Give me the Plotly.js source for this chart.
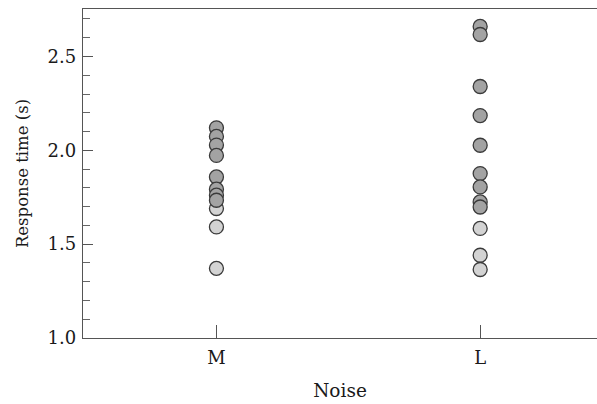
<!DOCTYPE html>
<html>
<head>
<meta charset="utf-8">
<script src="https://cdn.plot.ly/plotly-3.0.1.min.js"></script>
<style>html,body{margin:0;padding:0;overflow:hidden;background:#fff}</style>
</head>
<body>
<div id="chart" style="width:597px;height:404px"></div>
<script>
// Data
const categories = ["M", "L"];
const darkM = [2.120, 2.074, 2.028, 1.973, 1.858, 1.793, 1.761, 1.734];
const lightM = [1.690, 1.592, 1.371];
const darkL = [2.660, 2.617, 2.340, 2.185, 2.027, 1.876, 1.805, 1.725, 1.698];
const lightL = [1.584, 1.441, 1.365];
const yTickVals = [1.0, 1.5, 2.0, 2.5];
const yTickText = ["1.0", "1.5", "2.0", "2.5"];

const darkX = darkM.map(() => categories[0]).concat(darkL.map(() => categories[1]));
const darkY = darkM.concat(darkL);
const lightX = lightM.map(() => categories[0]).concat(lightL.map(() => categories[1]));
const lightY = lightM.concat(lightL);

const serif = "DejaVu Serif, Liberation Serif, serif";
const mk = (fill) => ({size: 14, color: fill, line: {color: "#3a3a3a", width: 1.3}});

const traces = [
  {type: "scatter", mode: "markers", x: lightX, y: lightY, marker: mk("#d3d3d3"), hoverinfo: "skip"},
  {type: "scatter", mode: "markers", x: darkX, y: darkY, marker: mk("#a3a3a3"), hoverinfo: "skip"}
];

const layout = {
  width: 597, height: 404,
  margin: {l: 82.5, r: 0, t: 8.5, b: 66},
  paper_bgcolor: "#fff", plot_bgcolor: "#fff",
  showlegend: false,
  font: {family: serif, size: 16, color: "#1a1a1a"},
  xaxis: {
    type: "category",
    categoryorder: "array", categoryarray: categories,
    range: [-0.506, 1.443],
    showgrid: false, zeroline: false,
    showline: true, linecolor: "#555", linewidth: 1.3, mirror: true,
    ticks: "inside", ticklen: 13, tickwidth: 1.2, tickcolor: "#555",
    ticklabelstandoff: 3,
    tickfont: {family: serif, size: 18, color: "#1a1a1a"},
    title: {text: "Noise", font: {family: serif, size: 18.5, color: "#1a1a1a"}, standoff: 17}
  },
  yaxis: {
    range: [1.0, 2.753],
    tickvals: yTickVals, ticktext: yTickText,
    showgrid: false, zeroline: false,
    showline: true, linecolor: "#555", linewidth: 1.3, mirror: false,
    ticks: "inside", ticklen: 10, tickwidth: 1.2, tickcolor: "#555",
    minor: {dtick: 0.1, ticks: "inside", ticklen: 7, tickwidth: 1, tickcolor: "#666", showgrid: false},
    ticklabelstandoff: 2,
    tickfont: {family: serif, size: 18, color: "#1a1a1a"},
    title: {text: "Response time (s)", font: {family: serif, size: 16.5, color: "#1a1a1a"}, standoff: 14}
  }
};

Plotly.newPlot("chart", traces, layout, {displayModeBar: false, staticPlot: true});
</script>
</body>
</html>
